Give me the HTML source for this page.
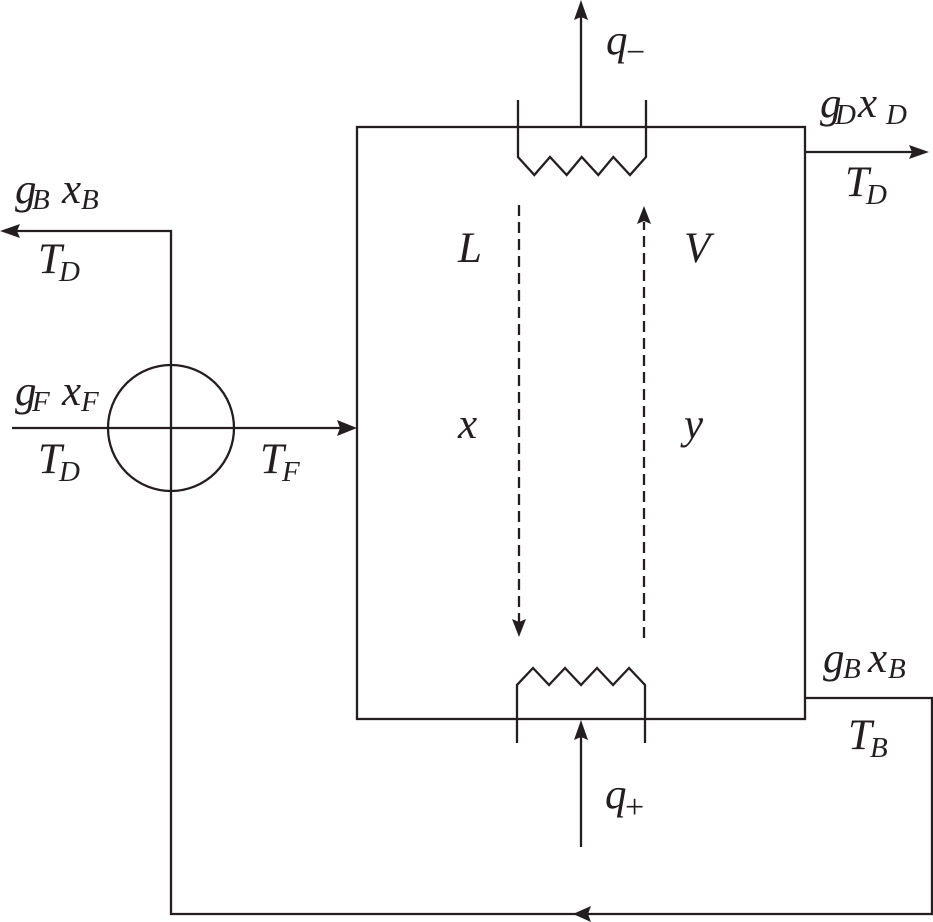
<!DOCTYPE html>
<html><head><meta charset="utf-8"><style>
html,body{margin:0;padding:0;background:#fff;}
svg{display:block;}
text{font-family:"Liberation Serif","Times New Roman",serif;font-style:italic;fill:#231f20;}
.s{font-size:29px;}
.m{font-size:43px;}
.u{font-style:normal;font-size:34px;}
</style></head><body>
<svg width="933" height="922" viewBox="0 0 933 922" xmlns="http://www.w3.org/2000/svg">
<g stroke="#231f20" stroke-width="2.3" fill="none">
  <rect x="357" y="127" width="448" height="592"/>
  <path d="M518 100 V157 L534.3 175 L550 157 L566.7 175 L581.7 157 L598.3 175 L613.3 157 L630 175 L646 157 V100"/>
  <line x1="581" y1="127" x2="581" y2="14"/>
  <line x1="805" y1="152" x2="912" y2="152"/>
  <path d="M517 743 V685 L533 668 L549 685 L565 668 L581 685 L597 668 L613 685 L629 668 L645 685 V743"/>
  <line x1="581" y1="847" x2="581" y2="736"/>
  <polyline points="805,698 932,698 932,914 171,914 171,231 14,231"/>
  <line x1="12" y1="428" x2="342" y2="428"/>
  <circle cx="171" cy="428" r="63"/>
  <line x1="519" y1="205" x2="519" y2="622" stroke-dasharray="11 6"/>
  <line x1="644" y1="638" x2="644" y2="222" stroke-dasharray="11 6"/>
</g>
<g fill="#231f20">
  <path d="M581 0 L588 20 L581 17 L574 20 Z"/>
  <path d="M929 152 L909 145 L912 152 L909 159 Z"/>
  <path d="M581 720 L588 740 L581 737 L574 740 Z"/>
  <path d="M0 231 L20 224 L17 231 L20 238 Z"/>
  <path d="M357 428 L337 420 L340 428 L337 436 Z"/>
  <path d="M573 914 L591 906 L588 914 L591 922 Z"/>
  <path d="M519 637 L512 619 L519 622 L526 619 Z"/>
  <path d="M644 206 L651 224 L644 221 L637 224 Z"/>
</g>
<text class="m" x="606" y="54">q</text><text class="u" x="626" y="63">−</text>
<text class="m" x="820" y="117">g</text><text class="s" x="835" y="124">D</text><text class="m" x="858" y="117">x</text><text class="s" x="886" y="124">D</text>
<text class="m" x="845" y="196">T</text><text class="s" x="866" y="204">D</text>
<text class="m" x="15" y="203">g</text><text class="s" x="32" y="209">B</text><text class="m" x="62" y="203">x</text><text class="s" x="81" y="209">B</text>
<text class="m" x="38" y="273">T</text><text class="s" x="59" y="281">D</text>
<text class="m" x="15" y="405">g</text><text class="s" x="32" y="411">F</text><text class="m" x="62" y="405">x</text><text class="s" x="81" y="411">F</text>
<text class="m" x="38" y="473">T</text><text class="s" x="59" y="481">D</text>
<text class="m" x="260" y="473">T</text><text class="s" x="282" y="481">F</text>
<text class="m" x="458" y="262">L</text>
<text class="m" x="684" y="262">V</text>
<text class="m" x="458" y="438">x</text>
<text class="m" x="684" y="438">y</text>
<text class="m" x="823" y="672">g</text><text class="s" x="843" y="678">B</text><text class="m" x="868" y="672">x</text><text class="s" x="888" y="678">B</text>
<text class="m" x="848" y="749">T</text><text class="s" x="870" y="757">B</text>
<text class="m" x="605" y="808">q</text><text class="u" x="625" y="818">+</text>
</svg>
</body></html>
